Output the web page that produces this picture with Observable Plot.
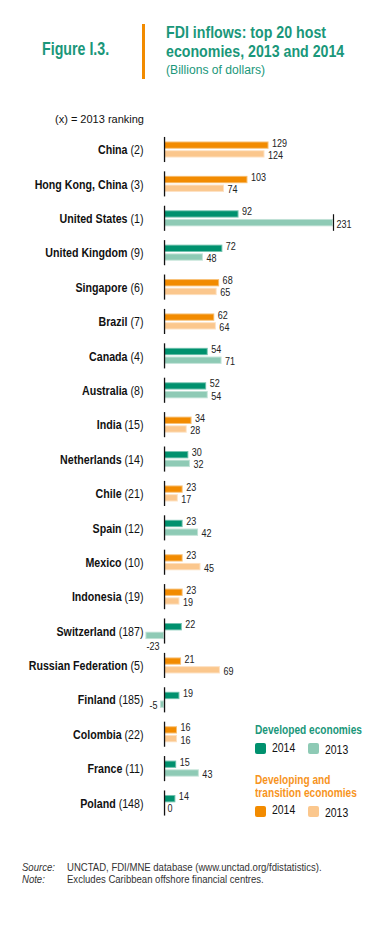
<!DOCTYPE html>
<html><head><meta charset="utf-8">
<script src="https://cdn.jsdelivr.net/npm/d3@7"></script>
<script src="https://cdn.jsdelivr.net/npm/@observablehq/plot@0.6"></script>
<style>
body{margin:0;background:#fff;width:371px;height:929px;position:relative;overflow:hidden;font-family:"Liberation Sans",Arial,sans-serif;color:#111;}
.abs{position:absolute;white-space:nowrap;transform-origin:0 0;}
.sw{position:absolute;width:11px;height:10.5px;border-radius:2px;}
.lt{position:absolute;white-space:nowrap;font-size:12px;color:#111;transform:scaleX(0.87);transform-origin:0 0;}
</style></head><body>
<div class="abs" style="left:42px;top:39.4px;font-weight:bold;font-size:18px;color:#1a977a;transform:scaleX(0.79)">Figure I.3.</div>
<div class="abs" style="left:142px;top:24px;width:3px;height:55px;background:#f28b00"></div>
<div class="abs" style="left:166px;top:22.5px;font-weight:bold;font-size:16.5px;line-height:19px;color:#1a977a;transform:scaleX(0.86)">FDI inflows: top 20 host<br>economies, 2013 and 2014</div>
<div class="abs" style="left:166px;top:62.5px;font-size:12.5px;color:#1a977a;transform:scaleX(0.97)">(Billions of dollars)</div>
<div class="abs" style="left:55px;top:113px;font-size:11px;color:#111">(x) = 2013 ranking</div>
<div id="chart" class="abs" style="left:0;top:125px"></div>

<div class="abs" style="left:255px;top:723px;font-weight:bold;font-size:12.5px;color:#1a977a;transform:scaleX(0.81)">Developed economies</div>
<div class="sw" style="left:255px;top:743px;background:#00916e"></div>
<div class="lt" style="left:271.5px;top:740.6px">2014</div>
<div class="sw" style="left:308px;top:743px;background:#8ecab5"></div>
<div class="lt" style="left:324.5px;top:743px">2013</div>

<div class="abs" style="left:255px;top:773.6px;font-weight:bold;font-size:12.5px;line-height:13.5px;color:#f7941d;transform:scaleX(0.81)">Developing and<br>transition economies</div>
<div class="sw" style="left:255px;top:806px;background:#f28b00"></div>
<div class="lt" style="left:271.5px;top:803.2px">2014</div>
<div class="sw" style="left:308px;top:806px;background:#fbc78d"></div>
<div class="lt" style="left:324.5px;top:805.6px">2013</div>

<div class="abs" style="left:22px;top:862px;font-size:10px;font-style:italic;color:#333;transform:scaleX(0.955)">Source:</div>
<div class="abs" style="left:67px;top:862px;font-size:10px;color:#333;transform:scaleX(0.955)">UNCTAD, FDI/MNE database (www.unctad.org/fdistatistics).</div>
<div class="abs" style="left:22px;top:874px;font-size:10px;font-style:italic;color:#333;transform:scaleX(0.955)">Note:</div>
<div class="abs" style="left:67px;top:874px;font-size:10px;color:#333;transform:scaleX(0.955)">Excludes Caribbean offshore financial centres.</div>

<script>
const countries = ["China","Hong Kong, China","United States","United Kingdom","Singapore","Brazil","Canada","Australia","India","Netherlands","Chile","Spain","Mexico","Indonesia","Switzerland","Russian Federation","Finland","Colombia","France","Poland"];
const ranks2013 = [2,3,1,9,6,7,4,8,15,14,21,12,10,19,187,5,185,22,11,148];
const groups = ["Developing","Developing","Developed","Developed","Developing","Developing","Developed","Developed","Developing","Developed","Developing","Developed","Developing","Developing","Developed","Developing","Developed","Developing","Developed","Developed"];
const fdi2014 = [129,103,92,72,68,62,54,52,34,30,23,23,23,23,22,21,19,16,15,14];
const fdi2013 = [124,74,231,48,65,64,71,54,28,32,17,42,45,19,-23,69,-5,16,43,0];
const years = ["2014","2013"];
const colorKeys = ["Developed 2014","Developed 2013","Developing 2014","Developing 2013"];
const colorRange = ["#00916e","#8ecab5","#f28b00","#fbc78d"];

const labels = countries.map((c,i) => `${c} (${ranks2013[i]})`);
const rows = countries.flatMap((c,i) => [
  {label: labels[i], year: "2014", value: fdi2014[i], key: groups[i] + " 2014"},
  {label: labels[i], year: "2013", value: fdi2013[i], key: groups[i] + " 2013"}
]);
const xMax = 208.6;
const font = '"Liberation Sans",Arial,sans-serif';

const chart = Plot.plot({
  width: 371, height: 705,
  marginLeft: 145, marginRight: 38, marginTop: 8.5, marginBottom: 11,
  style: {fontFamily: font, overflow: "visible", background: "transparent"},
  x: {domain: [-23.5, xMax], clamp: true, axis: null},
  y: {domain: years, axis: null, paddingInner: 0.16, paddingOuter: 0.52, round: false},
  fy: {domain: labels, paddingInner: 0.27, paddingOuter: 0.1, round: false, axis: "left", tickSize: 0, tickPadding: 2, label: null},
  color: {domain: colorKeys, range: colorRange},
  marks: [
    Plot.barX(rows, {fy: "label", y: "year", x: "value", fill: "key", stroke: "white", strokeOpacity: 0.45, strokeWidth: 2}),
    Plot.ruleX([0], {stroke: "#111", strokeWidth: 1.3}),
    Plot.ruleX(rows.filter(d => d.value > xMax), {fy: "label", x: "value", stroke: "#111", strokeWidth: 1.2, insetTop: 8.5}),
    Plot.text(rows.filter(d => d.year === "2014"), {fy: "label", y: "year", x: "value", text: d => String(d.value), textAnchor: "start", dx: 3, dy: -2.5, fontSize: 11, fill: "#222"}),
    Plot.text(rows.filter(d => d.year === "2013" && d.value >= 0), {fy: "label", y: "year", x: "value", text: d => String(d.value), textAnchor: "start", dx: 3, dy: 1, fontSize: 11, fill: "#222"}),
    Plot.text(rows.filter(d => d.year === "2013" && d.value < 0 && d.value >= -10), {fy: "label", y: "year", x: "value", text: d => String(d.value), textAnchor: "end", dx: -3, dy: 1, fontSize: 11, fill: "#222"}),
    Plot.text(rows.filter(d => d.year === "2013" && d.value < -10), {fy: "label", y: "year", x: "value", text: d => String(d.value), textAnchor: "start", dx: 0.5, dy: 11, fontSize: 11, fill: "#222"})
  ]
});
document.getElementById("chart").appendChild(chart);

// country labels: bold name, regular ranking
d3.select(chart).selectAll('g[aria-label="fy-axis tick label"] text').each(function() {
  const t = this.textContent;
  const m = t.match(/^(.*) (\(\d+\))$/);
  if (!m) return;
  const sel = d3.select(this);
  sel.text(null).attr("font-size", 13).attr("fill", "#111");
  sel.append("tspan").attr("font-weight", "bold").text(m[1] + " ");
  sel.append("tspan").attr("font-weight", "normal").text(m[2]);
});
// condensed look: compress glyphs horizontally about each text's anchor
const sx = 0.82;
chart.querySelectorAll("text").forEach(t => {
  const tr = t.getAttribute("transform") || "";
  t.setAttribute("transform", (tr + ` scale(${sx},1)`).trim());
  const x = t.getAttribute("x");
  if (x != null && x !== "" && !isNaN(+x)) t.setAttribute("x", +x / sx);
});
</script>
</body></html>
